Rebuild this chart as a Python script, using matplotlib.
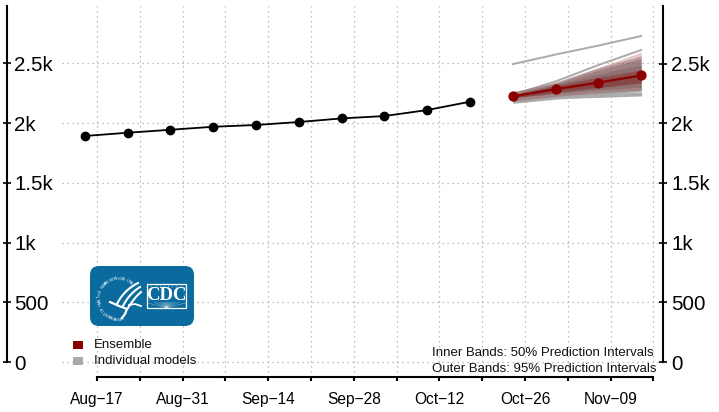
import numpy as np
import matplotlib
matplotlib.use("Agg")
import matplotlib.pyplot as plt
from matplotlib.patches import FancyBboxPatch, Rectangle

plt.rcParams['font.family'] = ['Liberation Sans', 'DejaVu Sans']

# days counted from Aug-17
hist_days = [-2, 5, 12, 19, 26, 33, 40, 47, 54, 61]
hist_vals = [1893, 1920, 1945, 1970, 1985, 2010, 2040, 2060, 2110, 2180]
fc_days = [68, 75, 82, 89]
ens_vals = [2225, 2285, 2340, 2400]
ens_lo95 = [2185, 2225, 2255, 2278]
ens_hi95 = [2265, 2340, 2465, 2596]
ens_lo50 = [2210, 2260, 2300, 2337]
ens_hi50 = [2240, 2315, 2385, 2445]

# individual models: point forecasts
model_lines = [
    [2495, 2575, 2650, 2730],
    [2240, 2350, 2487, 2613],
    [2205, 2225, 2235, 2245],
    [2190, 2210, 2220, 2232],
    [2200, 2235, 2265, 2290],
]
# individual models: (low, high) prediction bands
model_bands = [
    ([2170, 2205, 2240, 2270], [2260, 2345, 2465, 2562]),
    ([2190, 2230, 2265, 2295], [2250, 2335, 2445, 2540]),
    ([2165, 2200, 2225, 2250], [2245, 2325, 2410, 2490]),
    ([2205, 2250, 2295, 2340], [2235, 2300, 2360, 2420]),
]

tick_days = list(range(0, 92, 7))
tick_labels = ['Aug\u221217', '', 'Aug\u221231', '', 'Sep\u221214', '', 'Sep\u221228', '',
               'Oct\u221212', '', 'Oct\u221226', '', 'Nov\u221209', '']
y_ticks = [0, 500, 1000, 1500, 2000, 2500]
y_labels = ['0', '500', '1k', '1.5k', '2k', '2.5k']

W, H = 719, 412
fig = plt.figure(figsize=(W / 100, H / 100), dpi=100)

# axes box in pixels, the spines sit on its edges
left, right, top, bottom = 6.5, 663, 6, 376.5
ax = fig.add_axes([left / W, 1 - bottom / H, (right - left) / W, (bottom - top) / H])
px_day = 42.8 / 7
px_val = 59.7 / 500
ax.set_xlim((left - 97) / px_day, (right - 97) / px_day)
ax.set_ylim((362 - bottom) / px_val, (362 - top) / px_val)

# grid
grid_kw = dict(color='#aaaaaa', lw=0.9, linestyle=(0, (1, 3)), zorder=1)
for d in tick_days:
    ax.axvline(d, **grid_kw)
ax.hlines(y_ticks, (62 - 97) / px_day, (660 - 97) / px_day, **grid_kw)

# individual models
for lo, hi in model_bands:
    ax.fill_between(fc_days, lo, hi, color='#707070', alpha=0.38, lw=0, zorder=2)
for vals in model_lines:
    ax.plot(fc_days, vals, color='#aaaaaa', lw=1.4, zorder=3)

# ensemble
ax.fill_between(fc_days, ens_lo95, ens_hi95, color='#8b0000', alpha=0.22, lw=0, zorder=4)
ax.fill_between(fc_days, ens_lo50, ens_hi50, color='#8b0000', alpha=0.3, lw=0, zorder=4)
ax.plot(fc_days, ens_vals, color='#8b0000', lw=1.6, marker='o', ms=6.4, zorder=5)

# observed
ax.plot(hist_days, hist_vals, color='black', lw=1.3, marker='o', ms=6, zorder=5)

# axes
ax.spines['top'].set_visible(False)
ax.spines['left'].set_linewidth(1.5)
ax.spines['right'].set_linewidth(1.5)
ax.spines['bottom'].set_linewidth(1.5)
ax.spines['left'].set_bounds(0, ax.get_ylim()[1])
ax.spines['right'].set_bounds(0, ax.get_ylim()[1])
ax.spines['bottom'].set_bounds(tick_days[0], tick_days[-1])
ax.set_xticks(tick_days, tick_labels, fontsize=11.2)
ax.tick_params(axis='x', direction='out', length=3, width=1.5, pad=8)
ax.set_yticks(y_ticks, y_labels, fontsize=14.8)
ax.tick_params(axis='y', direction='inout', length=6, width=1.2, pad=-8.6)
for t in ax.get_yticklabels():
    t.set_ha('left')

ax2 = ax.twinx()
ax2.set_ylim(ax.get_ylim())
for s in ax2.spines.values():
    s.set_visible(False)
ax2.set_yticks(y_ticks, y_labels, fontsize=14.8)
ax2.tick_params(axis='y', direction='inout', length=6, width=1.2, pad=3)

# overlay in pixel coordinates for legend, notes and logo
ov = fig.add_axes([0, 0, 1, 1], zorder=10)
ov.set_xlim(0, W)
ov.set_ylim(H, 0)
ov.axis('off')
ov.patch.set_alpha(0)

ov.add_patch(Rectangle((73, 341), 10, 8, color='#8b0000', lw=0))
ov.add_patch(Rectangle((73, 357), 10, 8, color='#aaaaaa', lw=0))
ov.text(94, 345.5, 'Ensemble', fontsize=9.5, va='center', color='#111111')
ov.text(94, 360.5, 'Individual models', fontsize=9.5, va='center', color='#111111')
ov.text(432, 353.5, 'Inner Bands: 50% Prediction Intervals', fontsize=9.5, va='center', color='#111111')
ov.text(432, 368.5, 'Outer Bands: 95% Prediction Intervals', fontsize=9.5, va='center', color='#111111')

# CDC logo
blue = '#0b6a9e'
ov.add_patch(FancyBboxPatch((98, 274), 88, 44, boxstyle='round,pad=8,rounding_size=9',
                            fc=blue, ec='none', zorder=11))
box = Rectangle((147, 284), 39, 24, fc='none', ec='white', lw=0.9, zorder=12)
ov.add_patch(box)
# rays in the CDC box
for a in np.linspace(15, 165, 16):
    rad = np.deg2rad(a)
    ray, = ov.plot([166.5, 166.5 + 40 * np.cos(rad)], [308, 308 - 40 * np.sin(rad)], color='white',
                   lw=0.3, alpha=0.6, zorder=12)
    ray.set_clip_path(box)
ov.add_patch(Rectangle((150, 288), 33, 14, fc=blue, ec='none', zorder=12.5))
ov.text(166.5, 295, 'CDC', color='white', fontsize=13.5, fontweight='bold',
        family='Liberation Serif', ha='center', va='center', zorder=13)

# seal text round the bird
seal = 'DEPARTMENT OF HEALTH & HUMAN SERVICES USA'
angles = np.linspace(50, 280, len(seal))
for ch, a in zip(seal[::-1], angles):
    rad = np.deg2rad(a)
    ov.text(118.3 + 19 * np.cos(rad), 297.7 - 19 * np.sin(rad), ch, color='white', fontsize=2.8,
            ha='center', va='center', rotation=a - 90, zorder=13)

# bird swooshes
t = np.linspace(0, 1, 30)
for x0, y0, x1, y1, cx, cy, lw in [(138, 283, 117, 304, 124, 290, 1.5),
                                   (140, 287, 123, 306, 129, 294, 1.5),
                                   (141, 292, 128, 308, 134, 298, 1.5)]:
    x = (1 - t) ** 2 * x0 + 2 * t * (1 - t) * cx + t ** 2 * x1
    y = (1 - t) ** 2 * y0 + 2 * t * (1 - t) * cy + t ** 2 * y1
    ov.plot(x, y, color='white', lw=lw, zorder=13)
ov.plot([110, 119, 127, 125, 122], [302, 306, 309, 314, 318], color='white', lw=1.6, zorder=13)
ov.plot([129, 135, 141], [305, 304, 306], color='white', lw=1.3, zorder=13)

fig.savefig('out.png', dpi=100)
